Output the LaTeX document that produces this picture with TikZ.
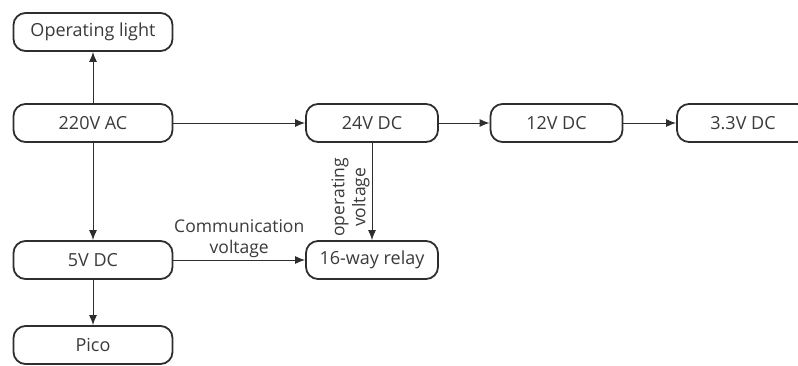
\documentclass[tikz,border=0pt]{standalone}
\usepackage{fontspec}
\setmainfont{Open Sans}
\usetikzlibrary{arrows.meta}
\definecolor{boxline}{HTML}{2E2E2E}
\definecolor{txt}{HTML}{3A3A3A}
\tikzset{
	unit/.style={draw=boxline,line width=1.8pt,rounded corners=12pt,minimum height=38pt,
		text=txt,font=\fontsize{18}{21}\selectfont},
	wideunit/.style={unit,minimum width=159pt},
	smallunit/.style={unit,minimum width=132pt},
	feed/.style={-{Latex[length=10pt,width=8pt]},draw=boxline,line width=1pt},
	tag/.style={text=txt,font=\fontsize{17.5}{21}\selectfont,align=center,inner sep=1pt}
}
\begin{document}
\begin{tikzpicture}[x=1pt,y=1pt]
	\useasboundingbox (0,0) rectangle (798,365);
	% left column
	\node[wideunit] (light) at (93,333) {Operating light};
	\node[wideunit] (ac) at (93,242) {220V AC};
	\node[wideunit] (dc5) at (93,105) {5V DC};
	\node[wideunit] (pico) at (93,20) {Pico};
	% upper row
	\node[smallunit] (dc24) at (372,242) {24V DC};
	\node[smallunit] (dc12) at (556.5,242) {12V DC};
	\node[smallunit] (dc33) at (743,242) {3.3V DC};
	\node[smallunit] (relay) at (372,105) {16-way relay};
	% connectors
	\draw[feed] (ac) -- (light);
	\draw[feed] (ac) -- (dc5);
	\draw[feed] (dc5) -- (pico);
	\draw[feed] (ac) -- (dc24);
	\draw[feed] (dc24) -- (dc12);
	\draw[feed] (dc12) -- (dc33);
	\draw[feed] (dc5) -- node[tag,above=1pt]{Communication\\voltage} (relay);
	\draw[feed] (dc24) -- node[tag,rotate=90,above=1pt,anchor=south,pos=0.56]{operating\\voltage} (relay);
\end{tikzpicture}
\end{document}
